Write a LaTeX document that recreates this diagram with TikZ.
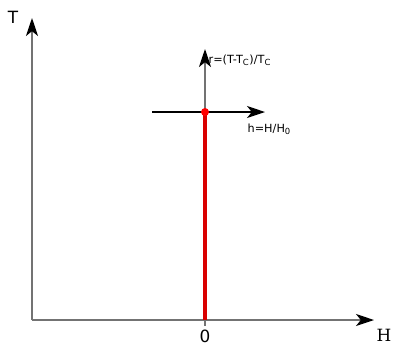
\documentclass[tikz,border=0pt]{standalone}
\usepackage{fontspec}
\setmainfont{DejaVu Sans}
\newfontfamily\serifH{DejaVu Serif}
\usetikzlibrary{arrows.meta, positioning}

\begin{document}
\begin{tikzpicture}[
    x=0.025cm, y=-0.025cm,
    axis/.style={draw=black!55, line width=0.9pt, -{Stealth[length=4.5mm, width=3mm, inset=1.2mm, black]}},
    haxis/.style={axis, draw=black},
    lbl/.style={font=\fontsize{12}{14}\selectfont, inner sep=1pt},
    small/.style={font=\fontsize{8}{10}\selectfont, inner sep=1pt},
    crit/.style={draw=red!85!black, line width=2.8pt},
]
    \useasboundingbox (0,0) rectangle (395,345);

    % --- Points on an explicit pixel grid ---
    \coordinate (orig)  at (32,320);
    \coordinate (ttop)  at (32,18);
    \coordinate (hend)  at (374,320);
    \coordinate (zero)  at (205,320);
    \coordinate (tick)  at (205,326);
    \coordinate (crit)  at (205,112);
    \coordinate (rtop)  at (205,49);
    \coordinate (hleft) at (152,112);
    \coordinate (hright) at (265,112);

    % --- Main axes ---
    \draw[axis] (orig) -- (ttop);
    \draw[axis] (orig) -- (hend);
    \draw[draw=black!55, line width=0.9pt] (zero) -- (tick);
    \node[lbl] (tlab) at (13,17) {T};
    \node[lbl, font=\serifH\fontsize{12}{14}\selectfont] (hlab) at (384,335) {H};
    \node[lbl] (zlab) at (205,336) {0};

    % --- Critical line and point ---
    \draw[crit] (zero) -- (crit);
    \draw[axis] (crit) -- (rtop);
    \draw[haxis] (hleft) -- (hright);
    \fill[red] (crit) circle (4);
    \node[small, anchor=west] (rlab) at (207,60) {r=(T-T\textsubscript{C})/T\textsubscript{C}};
    \node[small, anchor=west] (hsmall) at (246,129) {h=H/H\textsubscript{0}};
\end{tikzpicture}
\end{document}
